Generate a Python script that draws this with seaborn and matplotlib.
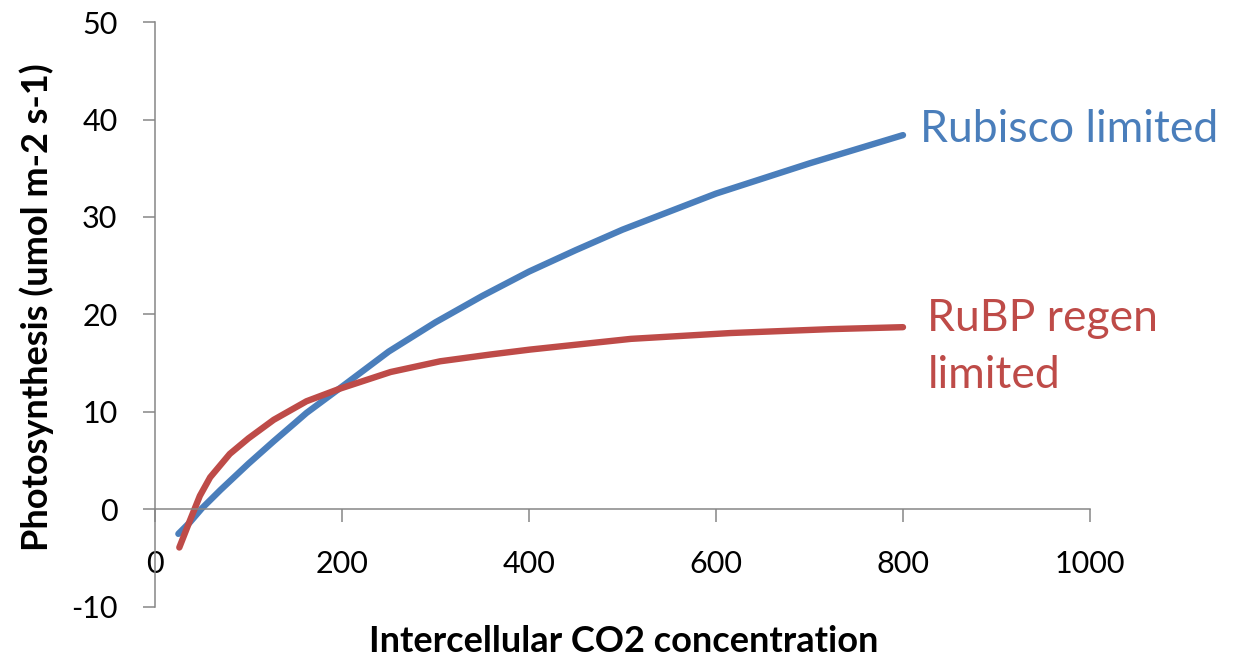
import numpy as np
import pandas as pd
import matplotlib
matplotlib.use("Agg")
import matplotlib.pyplot as plt
import seaborn as sns

# Data
rubisco_ci = [25, 37.5, 50, 70, 100, 127, 150, 162, 200, 250, 300, 350, 400, 450, 500, 600, 700, 800]
rubisco_limited = [-2.5, -1.3, 0.1, 2.0, 4.7, 7.0, 8.9, 9.9, 12.6, 16.2, 19.2, 21.9, 24.4, 26.6, 28.7, 32.4, 35.5, 38.4]

rubp_ci = [26, 37.5, 48, 59, 80, 100, 127, 162, 198, 252, 305, 359, 401, 509, 616, 723, 800]
rubp_limited = [-3.9, -1.1, 1.4, 3.3, 5.7, 7.3, 9.2, 11.1, 12.4, 14.1, 15.2, 15.9, 16.4, 17.5, 18.1, 18.5, 18.7]

x_ticks = [0, 200, 400, 600, 800, 1000]
y_ticks = [-10, 0, 10, 20, 30, 40, 50]

series_names = ["Rubisco limited", "RuBP regen limited"]
colors = {"Rubisco limited": "#4A7EBB", "RuBP regen limited": "#BE4B48"}

df = pd.DataFrame({
    "ci": rubisco_ci + rubp_ci,
    "A": rubisco_limited + rubp_limited,
    "series": [series_names[0]] * len(rubisco_ci) + [series_names[1]] * len(rubp_ci),
})

sns.set_theme(style="white")
plt.rcParams["font.family"] = ["Lato", "DejaVu Sans"]

fig = plt.figure(figsize=(12.34, 6.63), dpi=100)
ax = fig.add_axes([0.1256, 0.0845, 0.7577, 0.8823])

sns.lineplot(data=df, x="ci", y="A", hue="series", palette=colors,
             linewidth=4.6, ax=ax, legend=False, sort=True,
             solid_capstyle="round", solid_joinstyle="round")

ax.set_xlim(0, 1000)
ax.set_ylim(-10, 50)
ax.set_xticks(x_ticks)
ax.set_yticks(y_ticks)
ax.set_xticklabels([str(t) for t in x_ticks])
ax.set_yticklabels([str(t) for t in y_ticks])

spine_color = "#868686"
for s in ["top", "right"]:
    ax.spines[s].set_visible(False)
ax.spines["bottom"].set_position(("data", 0))
ax.spines["bottom"].set_color(spine_color)
ax.spines["left"].set_color(spine_color)
ax.spines["bottom"].set_linewidth(1.1)
ax.spines["left"].set_linewidth(1.1)

ax.tick_params(axis="x", direction="out", length=9, width=1.1, color=spine_color,
               pad=20, labelsize=22, labelcolor="black", bottom=True)
ax.tick_params(axis="y", direction="out", length=9, width=1.1, color=spine_color,
               pad=18, labelsize=22, labelcolor="black", left=True)

ax.set_xlabel("Intercellular CO2 concentration", fontsize=26, fontweight="bold", color="black")
ax.set_ylabel("Photosynthesis (umol m-2 s-1)", fontsize=26, fontweight="bold", color="black")
ax.xaxis.set_label_coords(0.5016, -0.03)
ax.yaxis.set_label_coords(-0.108, 0.513)

ax.text(818, 39.0, "Rubisco limited", color=colors["Rubisco limited"],
        fontsize=32, ha="left", va="center")
ax.text(826, 19.6, "RuBP regen", color=colors["RuBP regen limited"],
        fontsize=32, ha="left", va="center")
ax.text(826, 13.75, "limited", color=colors["RuBP regen limited"],
        fontsize=32, ha="left", va="center")

fig.savefig("out.png", dpi=100)
